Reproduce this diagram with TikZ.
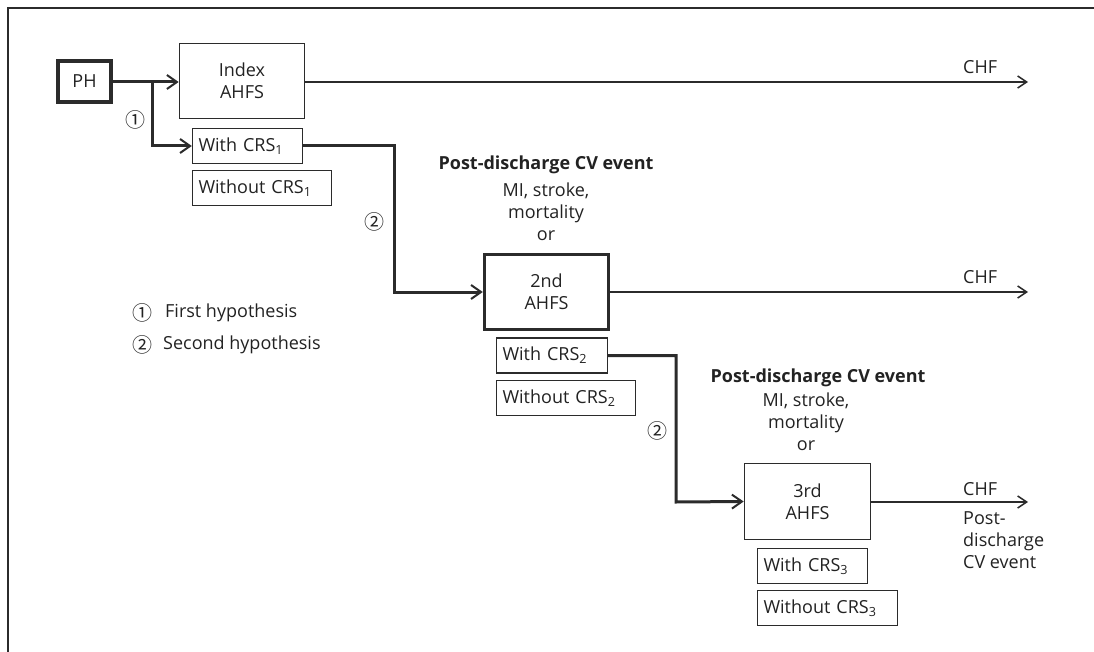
\documentclass[tikz,border=0pt]{standalone}
\usepackage{fontspec}
\setmainfont{Open Sans}
\newfontfamily\circfont{Noto Sans CJK SC}
\usetikzlibrary{arrows.meta}
\definecolor{ln}{HTML}{2B2B2B}
\definecolor{txt}{HTML}{222222}
\begin{document}
\begin{tikzpicture}[x=1pt,y=-1pt,
  font=\fontsize{18}{22}\selectfont,
  every node/.style={text=txt},
  lbl/.style={inner sep=0pt},
  circ/.style={inner sep=0pt, font=\circfont\fontsize{20}{22}\selectfont},
  bigbox/.style={draw=ln, line width=1.7pt, inner sep=0pt, align=center},
  heavybox/.style={bigbox, line width=3.4pt},
  crsbox/.style={draw=ln, line width=1.4pt, inner xsep=6pt, inner ysep=0pt, align=left, minimum height=35pt},
  flow/.style={draw=ln, line width=3pt, -{Straight Barb[length=10pt,width=14pt,line width=2pt]}},
  chf/.style={draw=ln, line width=1.5pt, -{Straight Barb[length=9pt,width=12pt,line width=1.5pt]}}]
\useasboundingbox (0,0) rectangle (1094,652);
% frame (top and left only)
\draw[ln, line width=2pt] (8,652) -- (8,8) -- (1094,8);

% boxes
\node[heavybox, minimum width=53pt, minimum height=41pt] (ph) at (84.5,81.5) {PH};
\node[bigbox, minimum width=125pt, minimum height=75pt] (idx) at (242,81) {Index\\AHFS};
\node[crsbox, text width=98pt] (w1) at (247.5,146) {With CRS\textsubscript{1}};
\node[crsbox, text width=127pt] (wo1) at (262,188) {Without CRS\textsubscript{1}};
\node[heavybox, minimum width=124pt, minimum height=75pt] (a2) at (546.5,292) {2nd\\AHFS};
\node[crsbox, text width=99pt] (w2) at (552,355.5) {With CRS\textsubscript{2}};
\node[crsbox, text width=127pt] (wo2) at (566,398) {Without CRS\textsubscript{2}};
\node[bigbox, minimum width=126pt, minimum height=76pt] (a3) at (807.5,501.5) {3rd\\AHFS};
\node[crsbox, text width=98pt] (w3) at (812.5,566) {With CRS\textsubscript{3}};
\node[crsbox, text width=128pt] (wo3) at (827.5,608) {Without CRS\textsubscript{3}};

% texts
\node[lbl, font=\bfseries\fontsize{18}{22}\selectfont] (pd1) at (546,165) {Post-discharge CV event};
\node[lbl, align=center] (ev1) at (546,212) {MI, stroke,\\mortality\\or};
\node[lbl, font=\bfseries\fontsize{18}{22}\selectfont] (pd2) at (818,378) {Post-discharge CV event};
\node[lbl, align=center] (ev2) at (806,422) {MI, stroke,\\mortality\\or};

\node[lbl, anchor=west] (chf1) at (963,67) {CHF};
\node[lbl, anchor=west] (chf2) at (963,277) {CHF};
\node[lbl, anchor=west] (chf3) at (963,489) {CHF};
\node[lbl, anchor=west, align=left] (pd3) at (963,540) {Post-\\discharge\\CV event};

\node[circ] (c1) at (135,120) {①};
\node[circ] (c2a) at (374,222) {②};
\node[circ] (c2b) at (657,431) {②};

\node[circ] (lg1) at (142,313) {①};
\node[lbl, anchor=west] (lt1) at (165,313) {First hypothesis};
\node[circ] (lg2) at (142,345) {②};
\node[lbl, anchor=west] (lt2) at (163,345) {Second hypothesis};

% coordinates
\coordinate (b1) at (152,82);
\coordinate (e1) at (1028,82);
\coordinate (e2) at (1028,292);
\coordinate (e3) at (1028,502);

% connectors
\draw[flow] (ph.east |- b1) -- (idx.west |- b1);
\draw[flow] (b1) |- (w1.west);
\draw[flow] (w1.east) -| (394,292) -- (a2.west);
\draw[flow] (w2.east) -| (676,502) -- (a3.west);
\draw[chf] (idx.east |- e1) -- (e1);
\draw[chf] (a2.east) -- (e2);
\draw[chf] (a3.east |- e3) -- (e3);
\end{tikzpicture}
\end{document}
